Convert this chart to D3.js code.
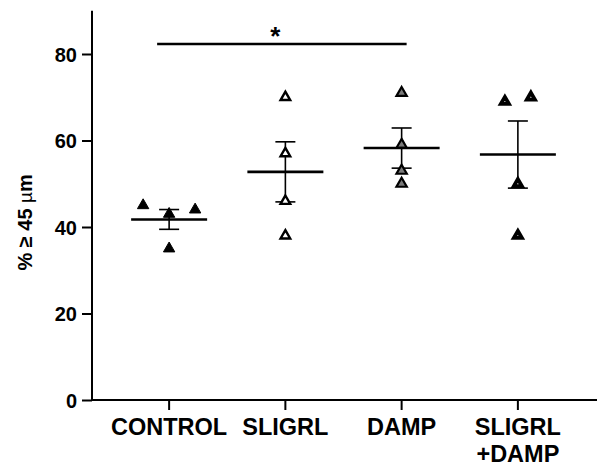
<!DOCTYPE html>
<html>
<head>
<meta charset="utf-8">
<script src="https://cdn.jsdelivr.net/npm/d3@7"></script>
<style>
  html, body { margin: 0; padding: 0; background: #fff; }
  svg { display: block; font-family: "Liberation Sans", Arial, sans-serif; }
</style>
</head>
<body>
<svg id="chart" width="599" height="466"></svg>
<script>
// Groups along the x axis
const categories = ["CONTROL", "SLIGRL", "DAMP", "SLIGRL+DAMP"];
// Category label lines (the last one wraps)
const categoryLabels = [["CONTROL"], ["SLIGRL"], ["DAMP"], ["SLIGRL", "+DAMP"]];

// Individual measurements per group (% of cells >= 45 µm)
const controlValues = [45, 43, 44, 35];
const sligrlValues = [70, 57, 46, 38];
const dampValues = [71, 59, 53, 50];
const sligrlDampValues = [69, 70, 50, 38];

// Y axis ticks
const yTicks = [0, 20, 40, 60, 80];

// Significance bracket between two groups
const significance = { from: "CONTROL", to: "DAMP", label: "*" };

const groups = [
  { name: categories[0], values: controlValues },
  { name: categories[1], values: sligrlValues },
  { name: categories[2], values: dampValues },
  { name: categories[3], values: sligrlDampValues }
];

// Marker appearance per group
const markerStyle = {
  "CONTROL":     { fill: "#000", stroke: "#000", sw: 1,   size: 56 },
  "SLIGRL":      { fill: "#fff", stroke: "#000", sw: 2.4, size: 40 },
  "DAMP":        { fill: "#7a7a7a", stroke: "#000", sw: 2.2, size: 46 },
  "SLIGRL+DAMP": { fill: "#fff", stroke: "#000", sw: 3.8, size: 28 }
};

const svg = d3.select("#chart");

const y = d3.scaleLinear().domain([0, 90]).range([400, 10.75]);
const x = d3.scaleBand().domain(categories).range([111, 576]).padding(0);
const cx = d => x(d) + x.bandwidth() / 2;

// Y axis
const yAxis = svg.append("g")
  .attr("transform", "translate(92,0)")
  .call(d3.axisLeft(y).tickValues(yTicks).tickSize(10).tickSizeOuter(0).tickPadding(5));
yAxis.select(".domain").remove();
yAxis.selectAll(".tick line").attr("stroke", "#000").attr("stroke-width", 2);
yAxis.selectAll(".tick text")
  .attr("fill", "#000")
  .style("font-size", "20px")
  .style("font-weight", "bold")
  .attr("dy", "0.36em");
svg.append("line")
  .attr("x1", 92).attr("x2", 92)
  .attr("y1", y(0) + 1).attr("y2", y(90))
  .attr("stroke", "#000").attr("stroke-width", 2);

// X axis
const xAxis = svg.append("g")
  .attr("transform", `translate(0,${y(0)})`)
  .call(d3.axisBottom(x).tickSize(10).tickSizeOuter(0).tickFormat(""));
xAxis.select(".domain").remove();
xAxis.selectAll(".tick line").attr("stroke", "#000").attr("stroke-width", 2);
svg.append("line")
  .attr("x1", 91).attr("x2", 597)
  .attr("y1", y(0)).attr("y2", y(0))
  .attr("stroke", "#000").attr("stroke-width", 2);

// Category labels
categories.forEach((c, i) => {
  const t = svg.append("text")
    .attr("x", cx(c))
    .attr("y", 435)
    .attr("text-anchor", "middle")
    .style("font-size", "23.5px")
    .style("font-weight", "bold")
    .attr("fill", "#000");
  categoryLabels[i].forEach((line, j) => {
    t.append("tspan").attr("x", cx(c)).attr("dy", j === 0 ? 0 : 27).text(line);
  });
});

// Y axis title
const yTitle = svg.append("text")
  .attr("transform", `translate(32,${(y(0) + y(90)) / 2 + 17}) rotate(-90)`)
  .attr("text-anchor", "middle")
  .style("font-size", "20px")
  .style("font-weight", "bold")
  .attr("fill", "#000");
yTitle.append("tspan").text("% \u2265 45 ");
yTitle.append("tspan").style("font-weight", "normal").style("font-size", "19px").text("\u00b5");
yTitle.append("tspan").text("m");

// Spread points that sit at nearly the same value side by side
function jitter(values, gap = 26, tol = 2.5) {
  const offsets = values.map(() => 0);
  const used = new Set();
  values.forEach((v, i) => {
    if (used.has(i)) return;
    const cluster = [i];
    used.add(i);
    let grew = true;
    while (grew) {
      grew = false;
      values.forEach((w, k) => {
        if (!used.has(k) && cluster.some(m => Math.abs(values[m] - w) <= tol)) {
          cluster.push(k); used.add(k); grew = true;
        }
      });
    }
    cluster.sort((a, b) => a - b);
    const n = cluster.length;
    cluster.forEach((idx, r) => { offsets[idx] = (r - (n - 1) / 2) * gap; });
  });
  return offsets;
}

const mean = v => d3.mean(v);
const sem = v => d3.deviation(v) / Math.sqrt(v.length);

groups.forEach(g => {
  const c = cx(g.name);
  const m = mean(g.values);
  const s = sem(g.values);
  const gEl = svg.append("g");

  // Error bar (mean ± SEM)
  gEl.append("line")
    .attr("x1", c).attr("x2", c)
    .attr("y1", y(m + s)).attr("y2", y(m - s))
    .attr("stroke", "#000").attr("stroke-width", 1.6);
  [m + s, m - s].forEach(v => {
    gEl.append("line")
      .attr("x1", c - 10).attr("x2", c + 10)
      .attr("y1", y(v)).attr("y2", y(v))
      .attr("stroke", "#000").attr("stroke-width", 1.6);
  });

  // Points
  const st = markerStyle[g.name];
  const offs = jitter(g.values);
  const sym = d3.symbol().type(d3.symbolTriangle).size(st.size);
  gEl.selectAll("path.pt")
    .data(g.values)
    .join("path")
    .attr("class", "pt")
    .attr("d", sym)
    .attr("transform", (d, i) => `translate(${c + offs[i]},${y(d)})`)
    .attr("fill", st.fill)
    .attr("stroke", st.stroke)
    .attr("stroke-width", st.sw)
    .attr("stroke-linejoin", "miter");

  // Mean line
  gEl.append("line")
    .attr("x1", c - 38).attr("x2", c + 38)
    .attr("y1", y(m)).attr("y2", y(m))
    .attr("stroke", "#000").attr("stroke-width", 2.6);
});

// Significance bracket
svg.append("line")
  .attr("x1", cx(significance.from) - 12).attr("x2", cx(significance.to) + 5)
  .attr("y1", 44).attr("y2", 44)
  .attr("stroke", "#000").attr("stroke-width", 2.6);
svg.append("text")
  .attr("x", (cx(significance.from) + cx(significance.to)) / 2 - 10)
  .attr("y", 45)
  .attr("text-anchor", "middle")
  .style("font-size", "26px")
  .style("font-weight", "bold")
  .attr("fill", "#000")
  .text(significance.label);
</script>
</body>
</html>
